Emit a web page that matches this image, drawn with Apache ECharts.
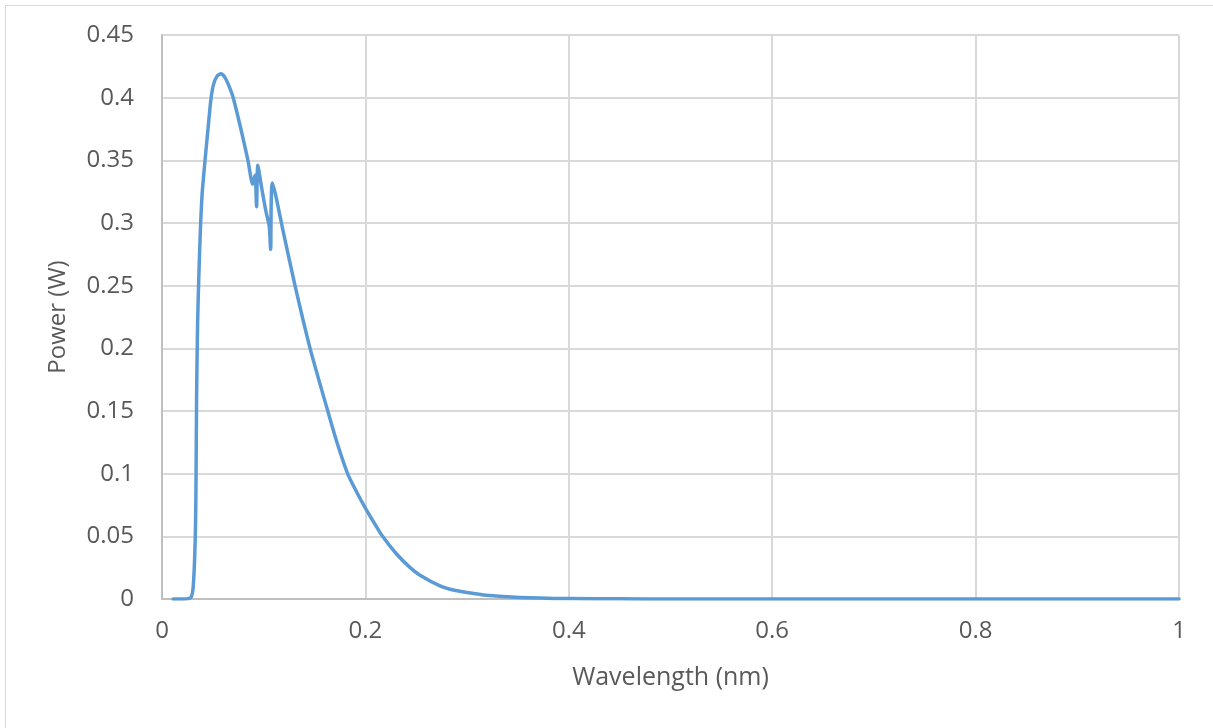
<!DOCTYPE html>
<html>
<head>
<meta charset="utf-8">
<script src="https://cdn.jsdelivr.net/npm/echarts@6/dist/echarts.min.js"></script>
<style>
html,body{margin:0;padding:0;background:#fff;overflow:hidden;}
#c{width:1213px;height:728px;}
</style>
</head>
<body>
<div id="c"></div>
<script>
// Wavelength (nm)
const wavelength = [
  0.011, 0.02, 0.027, 0.029, 0.0305, 0.032, 0.033, 0.0335, 0.034, 0.035,
  0.0365, 0.038, 0.0389, 0.0397, 0.0423, 0.045, 0.048, 0.0505, 0.054, 0.058,
  0.062, 0.066, 0.07, 0.077, 0.0845, 0.0892, 0.0915, 0.093, 0.0942, 0.098,
  0.102, 0.1055, 0.1068, 0.1085, 0.1195, 0.1308, 0.1456, 0.163, 0.172, 0.1825,
  0.191, 0.2, 0.208, 0.216, 0.23, 0.244, 0.2537, 0.2734, 0.2865, 0.3,
  0.319, 0.352, 0.4, 0.45, 0.5, 0.6, 0.7, 0.8, 0.9, 1.0
];
// Power (W)
const power = [
  0, 0, 0.0005, 0.002, 0.008, 0.03, 0.06, 0.1, 0.16, 0.22,
  0.265, 0.3, 0.315, 0.326, 0.35, 0.373, 0.398, 0.41, 0.417, 0.419,
  0.416, 0.409, 0.4, 0.377, 0.35, 0.331, 0.338, 0.313, 0.346, 0.328,
  0.31, 0.297, 0.279, 0.332, 0.292, 0.25, 0.2, 0.15, 0.125, 0.1,
  0.086, 0.0725, 0.0615, 0.051, 0.0365, 0.025, 0.019, 0.0105, 0.0072, 0.0052,
  0.003, 0.0012, 0.0003, 0.0001, 0, 0, 0, 0, 0, 0
];
const xTicks = [0, 0.2, 0.4, 0.6, 0.8, 1];
const yTicks = [0, 0.05, 0.1, 0.15, 0.2, 0.25, 0.3, 0.35, 0.4, 0.45];

const chart = echarts.init(document.getElementById('c'), null, {renderer: 'canvas'});
const font = '"Open Sans", "Liberation Sans", sans-serif';
const txt = '#595959';
const fmt = v => String(+(+v).toFixed(2));

chart.setOption({
  animation: false,
  backgroundColor: '#fff',
  graphic: [{
    type: 'rect', silent: true,
    shape: {x: 5.5, y: 5.5, width: 1240, height: 760},
    style: {fill: 'none', stroke: '#d9d9d9', lineWidth: 1}
  }],
  grid: {left: 162, right: 34, top: 35, bottom: 129, containLabel: false},
  xAxis: {
    type: 'value', min: xTicks[0], max: xTicks[xTicks.length - 1], interval: 0.2,
    name: 'Wavelength (nm)', nameLocation: 'middle', nameGap: 66,
    nameTextStyle: {fontFamily: font, fontSize: 25, color: txt},
    axisLine: {show: true, lineStyle: {color: '#bfbfbf', width: 2}},
    axisTick: {show: false},
    axisLabel: {fontFamily: font, fontSize: 24, color: txt, margin: 20, formatter: fmt},
    splitLine: {show: true, lineStyle: {color: '#d9d9d9', width: 2}}
  },
  yAxis: {
    type: 'value', min: yTicks[0], max: yTicks[yTicks.length - 1], interval: 0.05,
    name: 'Power (W)', nameLocation: 'middle', nameGap: 92, nameRotate: 90,
    nameTextStyle: {fontFamily: font, fontSize: 24, color: txt},
    axisLine: {show: true, lineStyle: {color: '#bfbfbf', width: 2}},
    axisTick: {show: false},
    axisLabel: {fontFamily: font, fontSize: 24, color: txt, margin: 28, formatter: fmt},
    splitLine: {show: true, lineStyle: {color: '#d9d9d9', width: 2}}
  },
  series: [{
    type: 'line',
    data: wavelength.map((x, i) => [x, power[i]]),
    showSymbol: false,
    smooth: 0.25,
    lineStyle: {color: '#5B9BD5', width: 3.5, cap: 'round', join: 'round'},
    itemStyle: {color: '#5B9BD5'}
  }]
});
</script>
</body>
</html>
